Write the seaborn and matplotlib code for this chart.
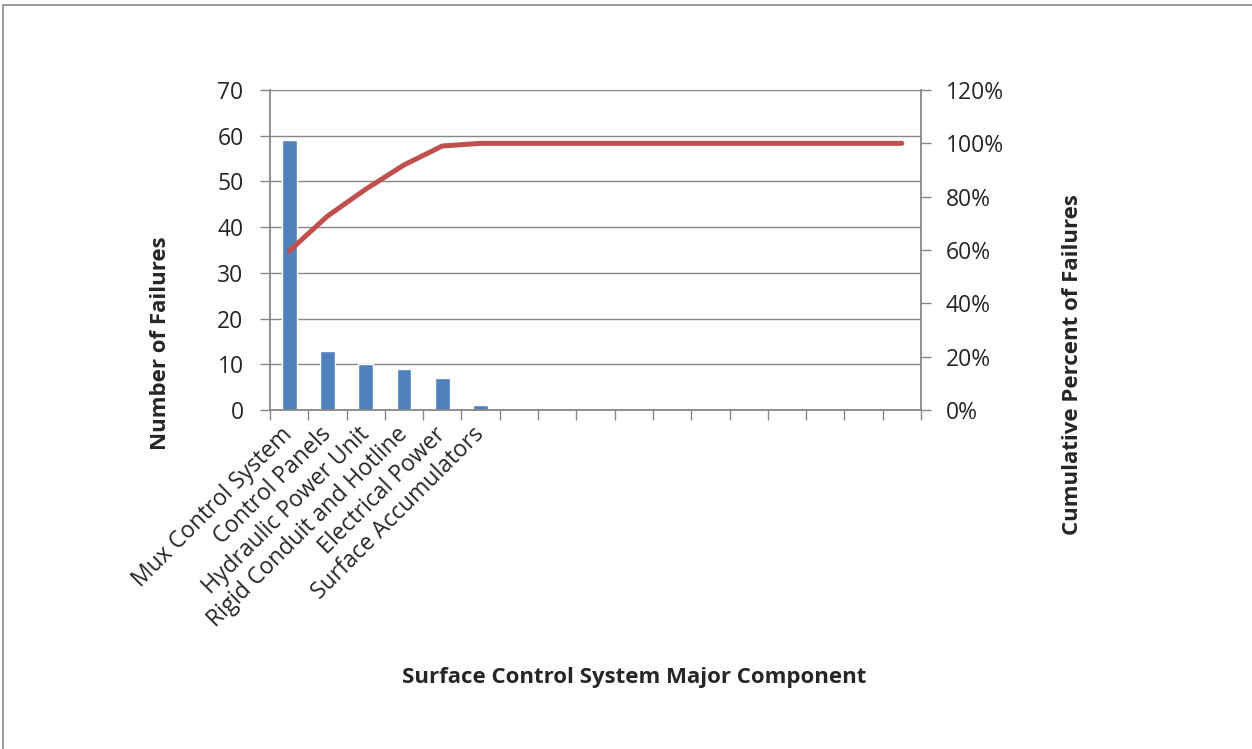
import numpy as np
import pandas as pd
import matplotlib.pyplot as plt
import seaborn as sns
from matplotlib.patches import Rectangle
from matplotlib.ticker import PercentFormatter, FixedLocator
from matplotlib.transforms import ScaledTranslation

components = [
    "Mux Control System", "Control Panels", "Hydraulic Power Unit",
    "Rigid Conduit and Hotline", "Electrical Power", "Surface Accumulators"
]
failures = [59, 13, 10, 9, 7, 1]
# 17 category slots on the axis, the last 11 are empty
n_blank = 11
cum_pct = [0.596, 0.727, 0.828, 0.919, 0.990] + [1.0] * 12

BAR_COLOR = "#4F81BD"
LINE_COLOR = "#C0504D"
GRID_COLOR = "#878787"

sns.set_theme(style="white")
plt.rcParams['font.family'] = ['Open Sans', 'DejaVu Sans']

slots = components + [" " * (i + 1) for i in range(n_blank)]
df = pd.DataFrame({
    "slot": slots,
    "failures": failures + [0] * n_blank,
    "cum": cum_pct,
})

fig = plt.figure(figsize=(12.52, 7.49), dpi=100)
ax = fig.add_axes([270 / 1252, 1 - 410 / 749, (921 - 270) / 1252, (410 - 90) / 749])

sns.barplot(data=df, x="slot", y="failures", order=slots, color=BAR_COLOR,
            width=0.39, saturation=1, ax=ax)
ax.set_ylim(0, 70)
ax.set_yticks(range(0, 71, 10))
ax.yaxis.grid(True, color=GRID_COLOR, lw=1)
ax.set_axisbelow(True)
ax.set_xlim(-0.5, len(slots) - 0.5)

# ticks between categories, labels at centres
n = len(slots)
ax.xaxis.set_major_locator(FixedLocator(np.arange(n + 1) - 0.5))
ax.xaxis.set_minor_locator(FixedLocator(np.arange(n)))
ax.set_xticklabels([""] * (n + 1))
ax.set_xticklabels([s.strip() for s in slots], minor=True, rotation=45,
                   ha="right", va="center", rotation_mode="anchor")
shift = ScaledTranslation(7 / 100, 0, fig.dpi_scale_trans)
for lab in ax.get_xticklabels(minor=True):
    lab.set_transform(lab.get_transform() + shift)
ax.tick_params(axis="x", which="major", length=7, width=1, color=GRID_COLOR,
               direction="out", bottom=True)
ax.tick_params(axis="x", which="minor", length=0, pad=15, labelsize=16.5)
ax.tick_params(axis="y", length=7, width=1, color=GRID_COLOR, direction="out",
               left=True, labelsize=16.5, pad=12)
for s in ["left", "bottom"]:
    ax.spines[s].set_color(GRID_COLOR)
    ax.spines[s].set_linewidth(1.3)
ax.spines["top"].set_visible(False)
ax.spines["right"].set_visible(False)
ax.set_xlabel("")
ax.set_ylabel("")

ax2 = ax.twinx()
sns.lineplot(data=df, x="slot", y="cum", sort=False, color=LINE_COLOR, lw=3.6,
             solid_capstyle="round", ax=ax2)
ax2.set_ylim(0, 1.2)
ax2.set_yticks(np.arange(0, 1.21, 0.2))
ax2.yaxis.set_major_formatter(PercentFormatter(1.0, decimals=0))
ax2.tick_params(axis="y", length=7, width=1, color=GRID_COLOR, direction="out",
                right=True, labelsize=16.5, pad=11)
for lab in ax2.get_yticklabels():
    lab.set_horizontalalignment("left")
ax2.spines["right"].set_color(GRID_COLOR)
ax2.spines["right"].set_linewidth(1.3)
for s in ["left", "top", "bottom"]:
    ax2.spines[s].set_visible(False)
ax2.set_xlabel("")
ax2.set_ylabel("")
ax2.set_xlim(-0.5, n - 0.5)

fig.text(160 / 1252, 1 - 343 / 749, "Number of Failures", rotation=90,
         ha="center", va="center", fontsize=16, fontweight="bold")
fig.text(1072 / 1252, 1 - 365 / 749, "Cumulative Percent of Failures", rotation=90,
         ha="center", va="center", fontsize=16, fontweight="bold")
fig.text(634 / 1252, 1 - 677 / 749, "Surface Control System Major Component",
         ha="center", va="center", fontsize=16, fontweight="bold")

fig.patches.append(Rectangle((3 / 1252, -0.1), 1.2, 0.1 + (1 - 5 / 749),
                             transform=fig.transFigure, fill=False,
                             edgecolor="#898989", lw=1.2))

fig.savefig("out.png", dpi=100)
